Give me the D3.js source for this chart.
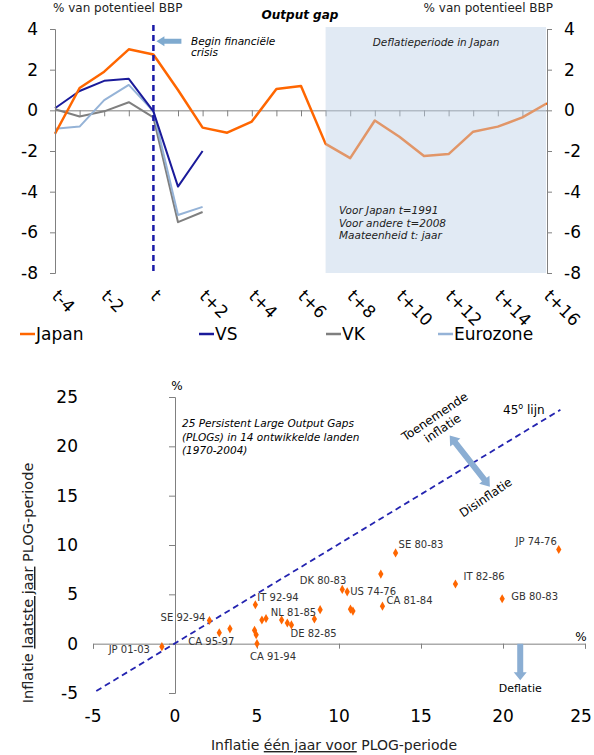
<!DOCTYPE html>
<html>
<head>
<meta charset="utf-8">
<title>Output gap en inflatie</title>
<script src="https://d3js.org/d3.v7.min.js"></script>
<style>
  body { margin: 0; background: #fff; }
  text { font-family: "DejaVu Sans", Verdana, sans-serif; }
</style>
</head>
<body>
<div id="chart"></div>
<script>
// ---- top chart data: output gap, % of potential GDP ----
const periods = ["t-4","t-3","t-2","t-1","t","t+1","t+2","t+3","t+4","t+5","t+6",
                 "t+7","t+8","t+9","t+10","t+11","t+12","t+13","t+14","t+15","t+16"];
const periodLabels = ["t-4","t-2","t","t+2","t+4","t+6","t+8","t+10","t+12","t+14","t+16"];
const japan    = [-1.15, 1.1, 1.9, 3.0, 2.75, 1.0, -0.85, -1.1, -0.55, 1.05, 1.2,
                  -1.65, -2.35, -0.5, -1.3, -2.25, -2.15, -1.05, -0.8, -0.35, 0.35];
const vs       = [0.1, 0.95, 1.45, 1.55, -0.05, -3.75, -2.0];
const vk       = [0.05, -0.3, -0.05, 0.4, -0.35, -5.5, -5.0];
const eurozone = [-0.9, -0.8, 0.5, 1.25, -0.05, -5.15, -4.75];
const gapTicks = [-8, -6, -4, -2, 0, 2, 4];

// ---- bottom chart data: 25 PLOG episodes ----
const plogNames = ["JP 01-03","SE 92-94","CA 95-97","","IT 92-94","","","CA 91-94","","",
                   "","","DE 82-85","","NL 81-85","DK 80-83","US 74-76","","","CA 81-84",
                   "","SE 80-83","IT 82-86","GB 80-83","JP 74-76"];
const inflBefore = [-0.8, 2.1, 2.7, 3.35, 4.9, 4.85, 4.95, 5.0, 5.3, 5.55,
                    6.5, 6.85, 7.1, 8.5, 8.85, 10.2, 10.5, 10.7, 10.85, 12.65,
                    12.55, 13.45, 17.1, 19.95, 23.4];
const inflLast   = [-0.3, 2.35, 1.1, 1.5, 3.95, 1.35, 0.9, 0.0, 2.4, 2.55,
                    2.4, 2.1, 1.9, 2.5, 3.45, 5.5, 5.25, 3.5, 3.3, 3.8,
                    7.05, 9.2, 6.05, 4.55, 9.55];
const inflTicks = [-5, 0, 5, 10, 15, 20, 25];

// label placement next to each marker (layout only)
const labelPos = {
  "JP 01-03": {dx: -12, dy: 6, anchor: "end"},
  "SE 92-94": {dx: -4, dy: 1, anchor: "end"},
  "CA 95-97": {dx: -31, dy: 12, anchor: "start"},
  "IT 92-94": {dx: 2, dy: -4, anchor: "start"},
  "CA 91-94": {dx: -7, dy: 16, anchor: "start"},
  "DE 82-85": {dx: -1, dy: 12, anchor: "start"},
  "NL 81-85": {dx: -4, dy: 6, anchor: "end"},
  "DK 80-83": {dx: 4, dy: -5, anchor: "end"},
  "US 74-76": {dx: 3, dy: 3, anchor: "start"},
  "CA 81-84": {dx: 4, dy: -2, anchor: "start"},
  "SE 80-83": {dx: 3, dy: -5, anchor: "start"},
  "IT 82-86": {dx: 8, dy: -4, anchor: "start"},
  "GB 80-83": {dx: 9, dy: 1, anchor: "start"},
  "JP 74-76": {dx: -2, dy: -4, anchor: "end"}
};

const W = 594, H = 755;
const svg = d3.select("#chart").append("svg")
    .attr("width", W).attr("height", H);

const axisGrey = "#808080";
const cJapan = "#FF6600", cVS = "#1A1A9A", cVK = "#7F7F7F", cEZ = "#95B3D7";

// thick block arrow between two points (head at the end, optionally both)
function blockArrow(g, x1, y1, x2, y2, shaft, head, headLen, both, color) {
  const ang = Math.atan2(y2 - y1, x2 - x1), len = Math.hypot(x2 - x1, y2 - y1);
  const s = shaft / 2, h = head / 2;
  const pts = both
    ? [[0,0],[headLen,-h],[headLen,-s],[len-headLen,-s],[len-headLen,-h],[len,0],
       [len-headLen,h],[len-headLen,s],[headLen,s],[headLen,h]]
    : [[0,-s],[len-headLen,-s],[len-headLen,-h],[len,0],[len-headLen,h],[len-headLen,s],[0,s]];
  g.append("path")
    .attr("d", d3.line()(pts) + "Z")
    .attr("fill", color)
    .attr("transform", `translate(${x1},${y1}) rotate(${ang * 180 / Math.PI})`);
}

// ================= TOP: Output gap =================
const xT = d3.scalePoint().domain(periods).range([55, 547]);
const yT = d3.scaleLinear().domain([-8, 4]).range([273, 29]);
const gTop = svg.append("g");

// x axis on zero line
gTop.append("g")
    .attr("transform", `translate(0,${yT(0)})`)
    .call(d3.axisBottom(xT).tickSize(6).tickFormat(""))
    .call(g => g.selectAll("path,line").attr("stroke", axisGrey));

// lines
const lineT = d3.line().x((d, i) => xT(periods[i])).y(d => yT(d));
[[vk, cVK, 2], [eurozone, cEZ, 2], [vs, cVS, 2], [japan, cJapan, 2.5]].forEach(([vals, col, w]) => {
  gTop.append("path").datum(vals)
    .attr("fill", "none").attr("stroke", col).attr("stroke-width", w)
    .attr("stroke-linejoin", "round")
    .attr("d", lineT);
});

// shaded deflation period (drawn over the line, semi transparent)
gTop.append("rect")
    .attr("x", xT("t+7")).attr("y", yT(4) - 2)
    .attr("width", xT("t+16") - xT("t+7") - 1).attr("height", yT(-8) - yT(4) + 2)
    .attr("fill", "#BDD0E6").attr("opacity", 0.45);

// y axes left and right
function gapAxis(axis, x) {
  gTop.append("g")
    .attr("transform", `translate(${x},0)`)
    .call(axis.tickValues(gapTicks).tickSize(5).tickPadding(12).tickFormat(d => String(d)))
    .call(g => g.selectAll("path,line").attr("stroke", axisGrey))
    .call(g => g.selectAll("text").attr("font-size", 17).attr("fill", "#000")
      .attr("font-family", "DejaVu Sans"));
}
gapAxis(d3.axisLeft(yT), xT("t-4"));
gapAxis(d3.axisRight(yT), xT("t+16"));

// dashed crisis marker at t
gTop.append("line")
    .attr("x1", xT("t")).attr("x2", xT("t"))
    .attr("y1", yT(4) - 4).attr("y2", yT(-8))
    .attr("stroke", "#1A1AA8").attr("stroke-width", 2.5).attr("stroke-dasharray", "6,4");

// rotated period labels
gTop.selectAll(".plab").data(periodLabels).join("text")
    .attr("class", "plab")
    .attr("transform", d => `translate(${xT(d) - 4},297) rotate(45)`)
    .attr("font-size", 17).attr("fill", "#000")
    .text(d => d);

// titles
gTop.append("text").attr("x", 53).attr("y", 12).attr("font-size", 12)
    .attr("fill", "#222").text("% van potentieel BBP");
gTop.append("text").attr("x", 553).attr("y", 12).attr("font-size", 12)
    .attr("text-anchor", "end").attr("fill", "#222").text("% van potentieel BBP");
gTop.append("text").attr("x", 300).attr("y", 19).attr("font-size", 12)
    .attr("text-anchor", "middle").attr("font-weight", "bold").attr("font-style", "italic")
    .text("Output gap");

// annotations
blockArrow(gTop, xT("t") + 28, yT(3.4), xT("t") + 3, yT(3.4), 5, 10, 8, false, "#7FAACF");
gTop.append("text").attr("x", 191).attr("y", 45).attr("font-size", 10.5)
    .attr("font-style", "italic").text("Begin financiële");
gTop.append("text").attr("x", 191).attr("y", 56).attr("font-size", 10.5)
    .attr("font-style", "italic").text("crisis");
gTop.append("text").attr("x", 436).attr("y", 46).attr("font-size", 10.5)
    .attr("text-anchor", "middle").attr("font-style", "italic").attr("fill", "#222")
    .text("Deflatieperiode in Japan");
["Voor Japan t=1991", "Voor andere t=2008", "Maateenheid t: jaar"].forEach((t, i) => {
  gTop.append("text").attr("x", 339).attr("y", 214 + i * 12.5).attr("font-size", 10.5)
    .attr("font-style", "italic").attr("fill", "#222").text(t);
});

// legend
const legend = [["Japan", cJapan, 20], ["VS", cVS, 199], ["VK", cVK, 326], ["Eurozone", cEZ, 438]];
legend.forEach(([name, col, x]) => {
  gTop.append("line").attr("x1", x).attr("x2", x + 15).attr("y1", 334).attr("y2", 334)
    .attr("stroke", col).attr("stroke-width", 2.5);
  gTop.append("text").attr("x", x + 16).attr("y", 340).attr("font-size", 17).text(name);
});

// ================= BOTTOM: inflation scatter =================
const xB = d3.scaleLinear().domain([-5, 25]).range([93, 585]);
const yB = d3.scaleLinear().domain([-5, 25]).range([693, 397]);
const gBot = svg.append("g");

gBot.append("g")
    .attr("transform", `translate(0,${yB(0)})`)
    .call(d3.axisBottom(xB).tickValues(inflTicks).tickSize(5).tickFormat(""))
    .call(g => g.selectAll("path,line").attr("stroke", axisGrey));
gBot.append("g")
    .attr("transform", `translate(${xB(0)},0)`)
    .call(d3.axisLeft(yB).tickValues(inflTicks).tickSize(6).tickFormat(""))
    .call(g => g.selectAll("path,line").attr("stroke", axisGrey));

// tick labels kept at the low edge of the plot
gBot.selectAll(".yl").data(inflTicks).join("text")
    .attr("x", 78).attr("y", d => yB(d) + 6)
    .attr("text-anchor", "end").attr("font-size", 17).text(d => d);
gBot.selectAll(".xl").data(inflTicks).join("text")
    .attr("x", d => Math.min(xB(d), 581)).attr("y", 722)
    .attr("text-anchor", "middle").attr("font-size", 17).text(d => d);

gBot.append("text").attr("x", xB(0) + 2).attr("y", 390).attr("font-size", 12)
    .attr("text-anchor", "middle").text("%");
gBot.append("text").attr("x", xB(25) - 4).attr("y", 641).attr("font-size", 12)
    .attr("text-anchor", "middle").text("%");

// 45 degree line
gBot.append("line")
    .attr("x1", xB(-4.8)).attr("y1", yB(-4.8)).attr("x2", xB(23.5)).attr("y2", yB(23.7))
    .attr("stroke", "#2424B0").attr("stroke-width", 1.8).attr("stroke-dasharray", "6,4");
gBot.append("text").attr("x", 503).attr("y", 414).attr("font-size", 12)
    .html('45<tspan dy="-5" font-size="8">o</tspan><tspan dy="5"> lijn</tspan>');

// arrows
blockArrow(gBot, xB(16.75), yB(21.1), xB(19.2), yB(15.9), 6, 13, 9, true, "#8BAED3");
blockArrow(gBot, xB(21.05), yB(0), xB(21.05), yB(-3.7), 6, 13, 8, false, "#8BAED3");
gBot.append("text").attr("font-size", 12)
    .attr("transform", `translate(437,420) rotate(-34)`)
    .attr("text-anchor", "middle")
    .html('<tspan x="0" dy="0">Toenemende</tspan><tspan x="0" dy="14">inflatie</tspan>');
gBot.append("text").attr("font-size", 12)
    .attr("transform", `translate(488,501) rotate(-34)`)
    .attr("text-anchor", "middle").text("Disinflatie");
gBot.append("text").attr("x", xB(21.05)).attr("y", 692).attr("font-size", 11)
    .attr("text-anchor", "middle").text("Deflatie");

["25 Persistent Large Output Gaps", "(PLOGs) in 14 ontwikkelde landen", "(1970-2004)"].forEach((t, i) => {
  gBot.append("text").attr("x", 182).attr("y", 427 + i * 13.5).attr("font-size", 10.5)
    .attr("font-style", "italic").text(t);
});

// points
const plog = plogNames.map((n, i) => ({name: n, x: inflBefore[i], y: inflLast[i]}));
gBot.selectAll(".pt").data(plog).join("path")
    .attr("class", "pt")
    .attr("transform", d => `translate(${xB(d.x)},${yB(d.y)})`)
    .attr("d", d3.symbol(d3.symbolDiamond, 24))
    .attr("fill", "#FF6600");
gBot.selectAll(".pl").data(plog.filter(d => d.name)).join("text")
    .attr("x", d => xB(d.x) + labelPos[d.name].dx)
    .attr("y", d => yB(d.y) + labelPos[d.name].dy)
    .attr("text-anchor", d => labelPos[d.name].anchor)
    .attr("font-size", 10).attr("fill", "#333")
    .text(d => d.name);

// axis titles
gBot.append("text").attr("transform", "translate(33,583) rotate(-90)")
    .attr("text-anchor", "middle").attr("font-size", 14.5).attr("fill", "#222")
    .html('Inflatie <tspan text-decoration="underline">laatste jaar</tspan> PLOG-periode');
gBot.append("text").attr("x", 334).attr("y", 750)
    .attr("text-anchor", "middle").attr("font-size", 14).attr("fill", "#222")
    .html('Inflatie <tspan text-decoration="underline">één jaar voor</tspan> PLOG-periode');
</script>
</body>
</html>
